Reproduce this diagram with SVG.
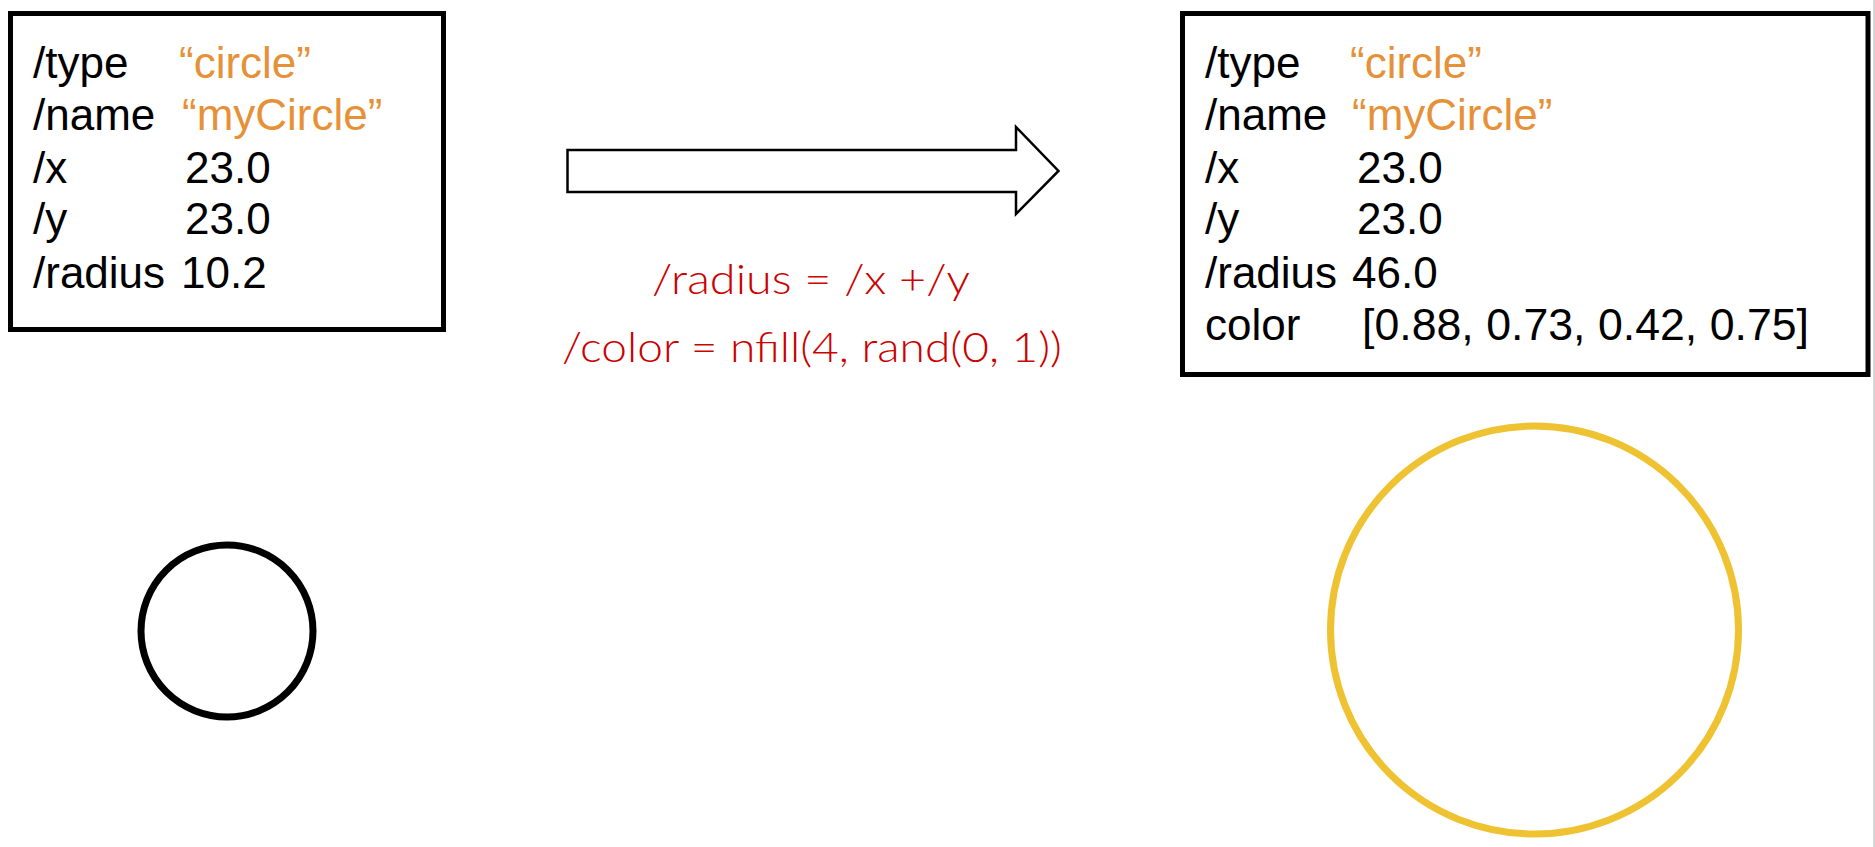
<svg xmlns="http://www.w3.org/2000/svg" width="1875" height="847" viewBox="0 0 1875 847">
  <style>
    .box { fill: #ffffff; stroke: #000000; stroke-width: 5; }
    .lbl { font-family: "Liberation Sans", Arial, sans-serif; font-size: 44px; fill: #000000; }
    .str { fill: #E69138; }
    .rule { font-family: Lato, "Open Sans", sans-serif; font-size: 42px; font-weight: 300; fill: #CC0000; }
  </style>
  <rect x="0" y="0" width="1875" height="847" fill="#ffffff"/>
  <line x1="1874" y1="0" x2="1874" y2="847" stroke="#c8c8c8" stroke-width="1.5"/>

  <g id="input-record">
    <rect class="box" x="10.5" y="13.5" width="433" height="316"/>
    <text class="lbl" x="33" y="78">/type</text>
    <text class="lbl str" x="179" y="78">“circle”</text>
    <text class="lbl" x="33" y="130">/name</text>
    <text class="lbl str" x="182" y="130">“myCircle”</text>
    <text class="lbl" x="33" y="183">/x</text>
    <text class="lbl" x="185" y="183">23.0</text>
    <text class="lbl" x="33" y="234">/y</text>
    <text class="lbl" x="185" y="234">23.0</text>
    <text class="lbl" x="33" y="288">/radius</text>
    <text class="lbl" x="181" y="288">10.2</text>
  </g>

  <g id="output-record">
    <rect class="box" x="1182.5" y="13.5" width="685.5" height="361"/>
    <text class="lbl" x="1205" y="78">/type</text>
    <text class="lbl str" x="1350" y="78">“circle”</text>
    <text class="lbl" x="1205" y="130">/name</text>
    <text class="lbl str" x="1352" y="130">“myCircle”</text>
    <text class="lbl" x="1205" y="183">/x</text>
    <text class="lbl" x="1357" y="183">23.0</text>
    <text class="lbl" x="1205" y="234">/y</text>
    <text class="lbl" x="1357" y="234">23.0</text>
    <text class="lbl" x="1205" y="288">/radius</text>
    <text class="lbl" x="1352" y="288">46.0</text>
    <text class="lbl" x="1205" y="340">color</text>
    <text class="lbl" x="1362" y="340" textLength="447" lengthAdjust="spacingAndGlyphs">[0.88, 0.73, 0.42, 0.75]</text>
  </g>

  <g id="connectors">
    <path d="M567.5,150 L1016,150 L1016,127 L1058.5,171 L1016,214 L1016,192 L567.5,192 Z" fill="#ffffff" stroke="#000000" stroke-width="2.5" stroke-linejoin="miter"/>
  </g>

  <g id="rules">
    <text class="rule" x="652" y="294" textLength="318" lengthAdjust="spacingAndGlyphs">/radius = /x +/y</text>
    <text class="rule" x="562" y="362" textLength="500" lengthAdjust="spacingAndGlyphs">/color = nfill(4, rand(0, 1))</text>
  </g>

  <g id="input-circle">
    <circle cx="227" cy="631" r="86" fill="none" stroke="#000000" stroke-width="7"/>
  </g>

  <g id="output-circle">
    <circle cx="1534.5" cy="630" r="204" fill="none" stroke="#EFC232" stroke-width="7"/>
  </g>
</svg>
